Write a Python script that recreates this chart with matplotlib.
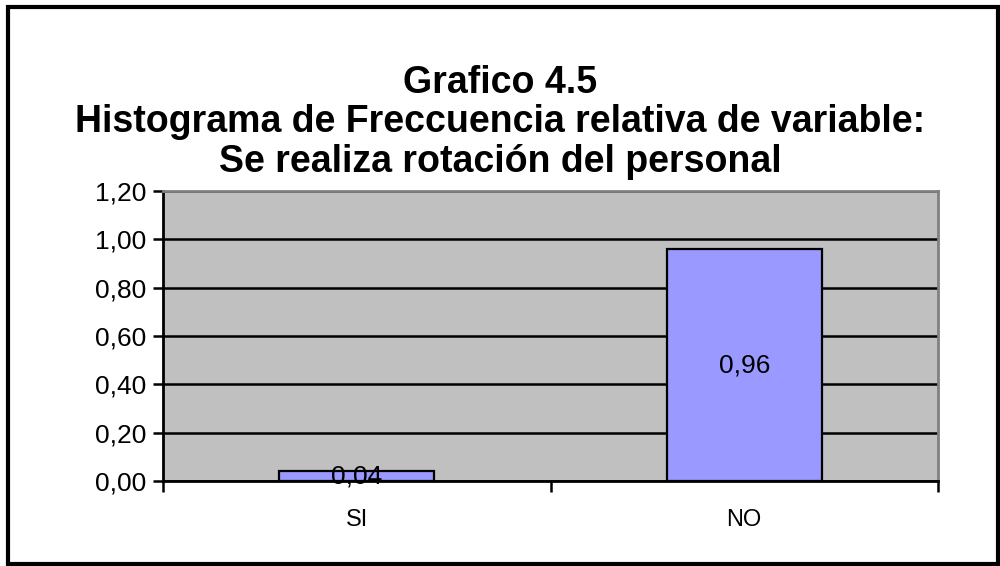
import matplotlib.pyplot as plt
from matplotlib.patches import Rectangle
import numpy as np

categorias = ["SI", "NO"]
frecuencia_relativa = [0.04, 0.96]
y_ticks = [0.0, 0.2, 0.4, 0.6, 0.8, 1.0, 1.2]
titulo = "Grafico 4.5\nHistograma de Freccuencia relativa de variable:\nSe realiza rotación del personal"

plt.rcParams['font.family'] = ['Liberation Sans', 'DejaVu Sans']

fig = plt.figure(figsize=(10, 5.66), dpi=100)
ax = fig.add_axes([0.163, 0.150, 0.775, 0.5124])

x = np.arange(len(categorias))
bars = ax.bar(x, frecuencia_relativa, width=0.4, color="#9999FF",
              edgecolor="black", linewidth=1.6, zorder=3)

for xi, v in zip(x, frecuencia_relativa):
    ax.text(xi, v / 2, f"{v:.2f}".replace(".", ","), ha="center", va="center",
            fontsize=19, zorder=4)

ax.set_facecolor("#C0C0C0")
ax.set_xlim(-0.5, len(categorias) - 0.5)
ax.set_ylim(0, 1.2)
ax.set_yticks(y_ticks)
ax.set_yticklabels([f"{t:.2f}".replace(".", ",") for t in y_ticks], fontsize=19)
ax.yaxis.grid(True, color="black", linewidth=1.8, zorder=1)
ax.set_axisbelow(True)

ax.set_xticks(np.arange(-0.5, len(categorias)), labels=[])
ax.set_xticks(x, labels=categorias, minor=True)
ax.tick_params(axis="x", which="major", length=8, width=1.8, direction="out")
ax.tick_params(axis="x", which="minor", length=0, labelsize=17, pad=20)
ax.tick_params(axis="y", length=7, width=1.8, direction="out", pad=5)

for s in ["left", "bottom"]:
    ax.spines[s].set_linewidth(2)
    ax.spines[s].set_color("black")
for s in ["top", "right"]:
    ax.spines[s].set_linewidth(2)
    ax.spines[s].set_color("#808080")

fig.text(0.5, 0.784, titulo, ha="center", va="center", fontsize=27,
         fontweight="bold", linespacing=1.12)

fig.patches.append(Rectangle((0.008, 0.004), 0.99, 0.984, transform=fig.transFigure,
                             fill=False, edgecolor="black", linewidth=3))

fig.savefig("out.png", dpi=100)
